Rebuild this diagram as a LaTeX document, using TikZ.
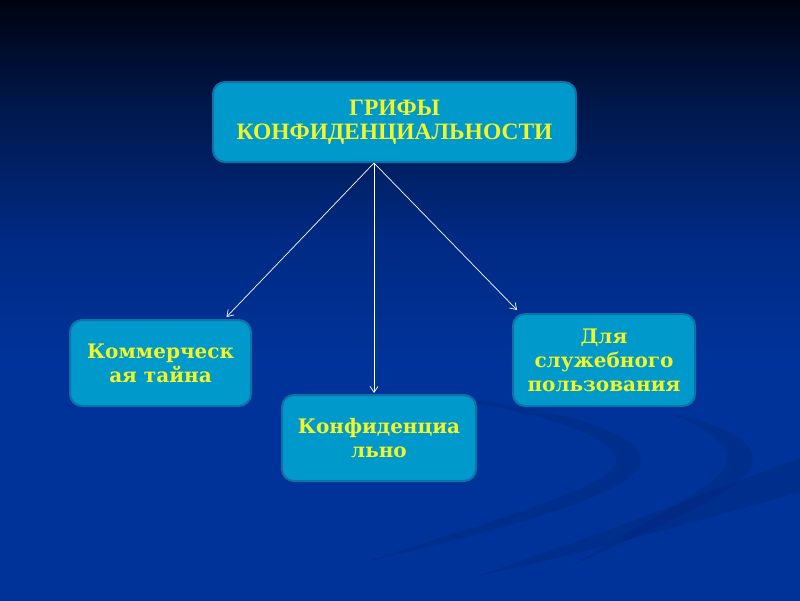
\documentclass[tikz,border=0pt]{standalone}
\usepackage{fontspec}
\setmainfont{DejaVu Serif}
\newfontfamily\headfont{Liberation Serif}
\usetikzlibrary{arrows.meta,positioning}
\definecolor{nightblue}{RGB}{0,3,16}
\definecolor{duskblue}{RGB}{0,24,76}
\definecolor{deepblue}{RGB}{0,42,132}
\definecolor{slideblue}{RGB}{0,51,153}
\definecolor{swirlblue}{RGB}{0,36,115}
\definecolor{boxcyan}{RGB}{0,153,204}
\definecolor{boxedge}{RGB}{16,112,168}
\definecolor{labelyellow}{RGB}{242,245,40}
\pgfdeclareverticalshading{slidebg}{100bp}{color(0bp)=(slideblue); color(25bp)=(slideblue); color(45bp)=(slideblue); color(55bp)=(deepblue); color(66bp)=(duskblue); color(75bp)=(nightblue); color(100bp)=(nightblue)}

\begin{document}
\begin{tikzpicture}[x=1pt,y=-1pt,>={Straight Barb[length=6pt,width=8pt]}]
        \tikzstyle{box}=[rectangle,rounded corners=12pt,fill=boxcyan,draw=boxedge,line width=2pt,
            inner sep=0pt,align=center,text=labelyellow,font=\bfseries\fontsize{20}{24}\selectfont]
        \tikzstyle{link}=[->,white,line width=0.7pt]

        % Background
        \useasboundingbox (0,0) rectangle (800,600);
        \shade[shading=slidebg] (0,0) rectangle (800,600);

        % Swirls
        \begin{scope}[opacity=.3]
            \fill[swirlblue] (400,393) .. controls (540,402) and (642,430) .. (641,460)
                .. controls (640,492) and (520,525) .. (355,565)
                .. controls (500,518) and (612,486) .. (616,462)
                .. controls (620,438) and (540,408) .. (400,393) -- cycle;
            \fill[swirlblue] (667,413) .. controls (730,425) and (757,445) .. (753,462)
                .. controls (748,488) and (680,515) .. (560,572)
                .. controls (660,514) and (722,482) .. (727,463)
                .. controls (732,445) and (705,426) .. (667,413) -- cycle;
            \fill[swirlblue] (800,458) -- (800,492)
                .. controls (700,520) and (600,550) .. (470,578)
                .. controls (600,535) and (700,495) .. (800,458) -- cycle;
        \end{scope}

        % Boxes
        \node (grif)[box,minimum width=363pt,minimum height=80pt,
            font=\headfont\bfseries\fontsize{23.5}{24}\selectfont] at (394.5,122)
            {ГРИФЫ\\КОНФИДЕНЦИАЛЬНОСТИ};
        \node (kom)[box,minimum width=181pt,minimum height=86pt] at (160.5,363)
            {Коммерческ\\ая тайна};
        \node (konf)[box,minimum width=194pt,minimum height=86pt] at (379,438)
            {Конфиденциа\\льно};
        \node (dsp)[box,minimum width=182pt,minimum height=92pt] at (604,360)
            {Для\\служебного\\пользования};

        % Split point under the title
        \coordinate (hub) at ([xshift=-20.5pt]grif.south);

        % Arrows
        \draw[link] (hub) -- ([xshift=66pt,yshift=2pt]kom.north);
        \draw[link] (hub) -- ([xshift=-5pt,yshift=1pt]konf.north);
        \draw[link] (hub) -- ([xshift=5pt,yshift=3pt]dsp.north west);
\end{tikzpicture}
\end{document}
